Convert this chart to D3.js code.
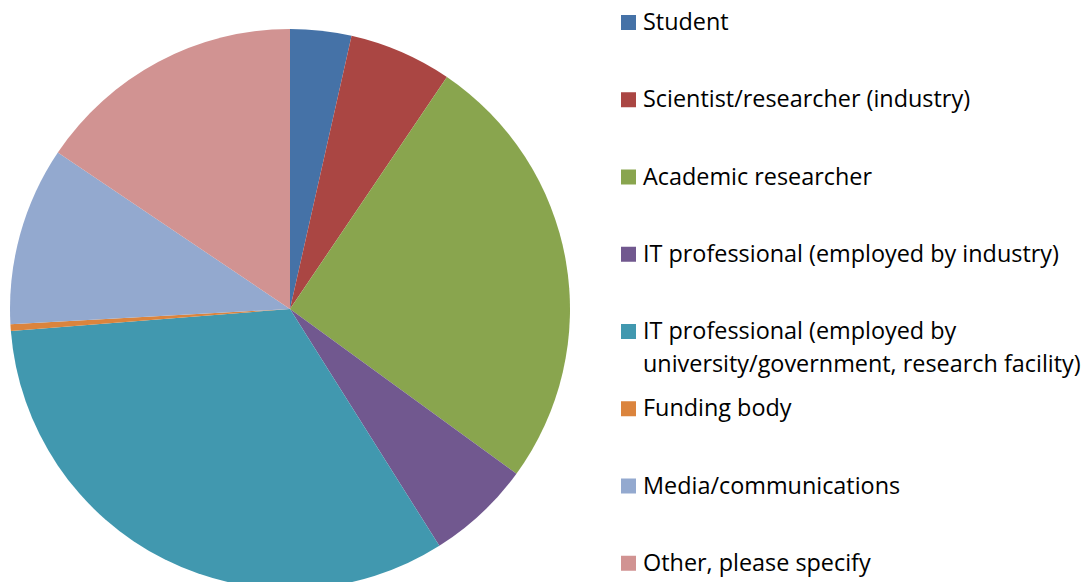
<!DOCTYPE html>
<html><head><meta charset="utf-8">
<script src="https://cdn.jsdelivr.net/npm/d3@7"></script>
<style>html,body{margin:0;padding:0;background:#fff;overflow:hidden}</style>
</head><body>
<svg id="chart" width="1086" height="582"></svg>
<script>
const categories = ["Student","Scientist/researcher (industry)","Academic researcher","IT professional (employed by industry)","IT professional (employed by university/government, research facility)","Funding body","Media/communications","Other, please specify"];
const values = [3.53, 5.94, 25.54, 6.04, 32.7, 0.39, 10.31, 15.56];
const colors = ["#4572A7","#AA4643","#89A54E","#71588F","#4198AF","#DB843D","#93A9CF","#D19392"];
const legendLines = [["Student"],["Scientist/researcher (industry)"],["Academic researcher"],["IT professional (employed by industry)"],["IT professional (employed by","university/government, research facility)"],["Funding body"],["Media/communications"],["Other, please specify"]];

const svg = d3.select("#chart");
const cx = 290, cy = 309, r = 280;
const pie = d3.pie().sort(null).value(d => d);
const arc = d3.arc().innerRadius(0).outerRadius(r);
const color = d3.scaleOrdinal().domain(categories).range(colors);

svg.append("g").attr("transform", `translate(${cx},${cy})`)
  .selectAll("path").data(pie(values)).join("path")
  .attr("d", arc).attr("fill", (d,i) => color(categories[i]));

const leg = svg.append("g").attr("font-family", "'Open Sans', sans-serif").attr("font-size", 23.4).attr("fill", "#000");
const y0 = 30, step = 77.25;
categories.forEach((c, i) => {
  const by = y0 + step * i;
  leg.append("rect").attr("x", 621).attr("y", by - 15).attr("width", 15).attr("height", 15).attr("fill", color(c));
  const t = leg.append("text").attr("x", 643).attr("y", by);
  legendLines[i].forEach((ln, j) => {
    t.append("tspan").attr("x", 643).attr("dy", j === 0 ? 0 : 32.5).text(ln);
  });
});
</script>
</body></html>
